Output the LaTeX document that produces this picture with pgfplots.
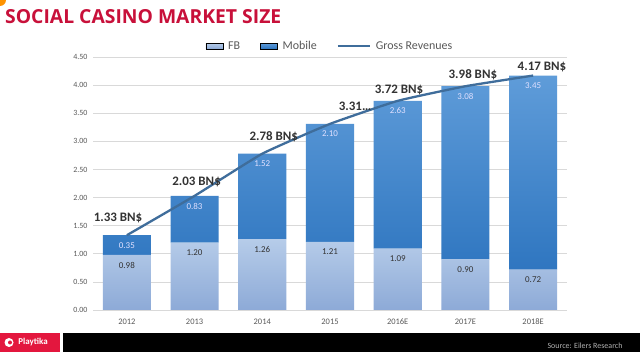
\documentclass[border=0pt]{standalone}
\usepackage{fontspec}
\setmainfont{Carlito}
\newfontfamily\titlefont{Open Sans}
\usepackage{pgfplots}
\pgfplotsset{compat=1.18}
\definecolor{titlered}{HTML}{C8103A}
\definecolor{fbtop}{HTML}{B6CCE9}
\definecolor{fbbot}{HTML}{8DAAD7}
\definecolor{mobtop}{HTML}{5F9CD9}
\definecolor{mobbot}{HTML}{2F76C0}
\definecolor{linec}{HTML}{3F6D9B}
\definecolor{txt}{HTML}{595959}
\definecolor{lbl}{HTML}{333333}
\definecolor{gridc}{HTML}{D9D9D9}
\definecolor{playred}{HTML}{E3173E}
\tikzset{
  fbl/.style={font=\fontsize{9}{9}\selectfont, text=lbl, inner sep=0},
  mbl/.style={font=\fontsize{9}{9}\selectfont, text=white!88!blue, inner sep=0},
  tot/.style={font=\bfseries\fontsize{13}{13}\selectfont, text=lbl, inner sep=0},
}
\begin{document}
\begin{tikzpicture}
\useasboundingbox (0bp,0bp) rectangle (640bp,355bp);
\fill[white] (0bp,0bp) rectangle (640bp,355bp);
\fill[orange!85!yellow] (0bp,355bp) circle (6bp);
\node[anchor=base west, font=\titlefont\bfseries\fontsize{19.4}{19.4}\selectfont, text=titlered, inner sep=0] at (5bp,331bp) {SOCIAL CASINO MARKET SIZE};
% bottom strip
\fill[playred] (0bp,3bp) rectangle (60bp,22bp);
\node[font=\bfseries\fontsize{9}{9}\selectfont, text=white] at (33bp,12.5bp) {Playtika};
\fill[white] (9bp,12.5bp) circle (4.5bp);
\fill[playred] (10bp,12.5bp) circle (2bp);
\fill[black] (63bp,3bp) rectangle (640bp,22bp);
\node[anchor=east, font=\fontsize{8}{8}\selectfont, text=gray!60] at (626bp,9bp) {Source: Eilers Research};
\begin{axis}[
  at={(93bp,45bp)}, anchor=south west, scale only axis,
  width=474bp, height=253bp,
  ymin=0, ymax=4.5, xmin=-0.5, xmax=6.5,
  ybar stacked, bar width=0.71,
  ytick={0,0.5,1,1.5,2,2.5,3,3.5,4,4.5},
  xtick={0,1,2,3,4,5,6},
  xticklabels={2012,2013,2014,2015,2016E,2017E,2018E},
  ymajorgrids, grid style={gridc, line width=0.6bp},
  axis line style={draw=none},
  major tick length=0pt,
  /pgf/number format/assume math mode=true,
  yticklabel style={/pgf/number format/fixed, /pgf/number format/fixed zerofill, /pgf/number format/precision=2},
  yticklabel style={font=\fontsize{8}{8}\selectfont, text=txt, xshift=-2bp},
  xticklabel style={font=\fontsize{8.5}{8.5}\selectfont, text=txt, yshift=-5bp},
]
\addplot[draw=none, top color=fbtop, bottom color=fbbot]
  coordinates {(0,0.98) (1,1.20) (2,1.26) (3,1.21) (4,1.09) (5,0.90) (6,0.72)};
\addplot[draw=none, top color=mobtop, bottom color=mobbot]
  coordinates {(0,0.35) (1,0.83) (2,1.52) (3,2.10) (4,2.63) (5,3.08) (6,3.45)};
\end{axis}
\begin{axis}[
  at={(93bp,45bp)}, anchor=south west, scale only axis,
  width=474bp, height=253bp,
  ymin=0, ymax=4.5, xmin=-0.5, xmax=6.5,
  hide axis,
  legend columns=3,
  legend style={at={(0.5,1)}, anchor=south, yshift=2bp, draw=none, fill=none,
    font=\fontsize{12}{12}\selectfont, text=txt,
    /tikz/every odd column/.append style={column sep=3bp},
    /tikz/every even column/.append style={column sep=18bp}},
]
\addlegendimage{area legend, draw=none, top color=fbtop, bottom color=fbbot}
\addlegendentry{FB}
\addlegendimage{area legend, draw=none, top color=mobtop, bottom color=mobbot}
\addlegendentry{Mobile}
\addplot[linec, line width=2.3bp, smooth, tension=0.25, mark=none,
  legend image code/.code={\draw[linec, line width=2bp] (0bp,0bp) -- (32bp,0bp);}]
  coordinates {(0,1.33) (1,2.03) (2,2.78) (3,3.31) (4,3.72) (5,3.98) (6,4.17)};
\addlegendentry{Gross Revenues}
\node[fbl] at (axis cs:0,0.80) {0.98};
\node[fbl] at (axis cs:1,1.02) {1.20};
\node[fbl] at (axis cs:2,1.08) {1.26};
\node[fbl] at (axis cs:3,1.03) {1.21};
\node[fbl] at (axis cs:4,0.91) {1.09};
\node[fbl] at (axis cs:5,0.72) {0.90};
\node[fbl] at (axis cs:6,0.54) {0.72};
\node[mbl] at (axis cs:0,1.15) {0.35};
\node[mbl] at (axis cs:1,1.85) {0.83};
\node[mbl] at (axis cs:2,2.60) {1.52};
\node[mbl] at (axis cs:3,3.13) {2.10};
\node[mbl] at (axis cs:4,3.54) {2.63};
\node[mbl] at (axis cs:5,3.80) {3.08};
\node[mbl] at (axis cs:6,3.99) {3.45};
\node[tot] at (axis cs:-0.13,1.64) {1.33 BN\$};
\node[tot] at (axis cs:1.03,2.28) {2.03 BN\$};
\node[tot] at (axis cs:2.17,3.08) {2.78 BN\$};
\node[tot] at (axis cs:3.37,3.63) {3.31\dots};
\node[tot] at (axis cs:4.02,3.91) {3.72 BN\$};
\node[tot] at (axis cs:5.11,4.18) {3.98 BN\$};
\node[tot] at (axis cs:6.13,4.32) {4.17 BN\$};
\end{axis}
\end{tikzpicture}
\end{document}
